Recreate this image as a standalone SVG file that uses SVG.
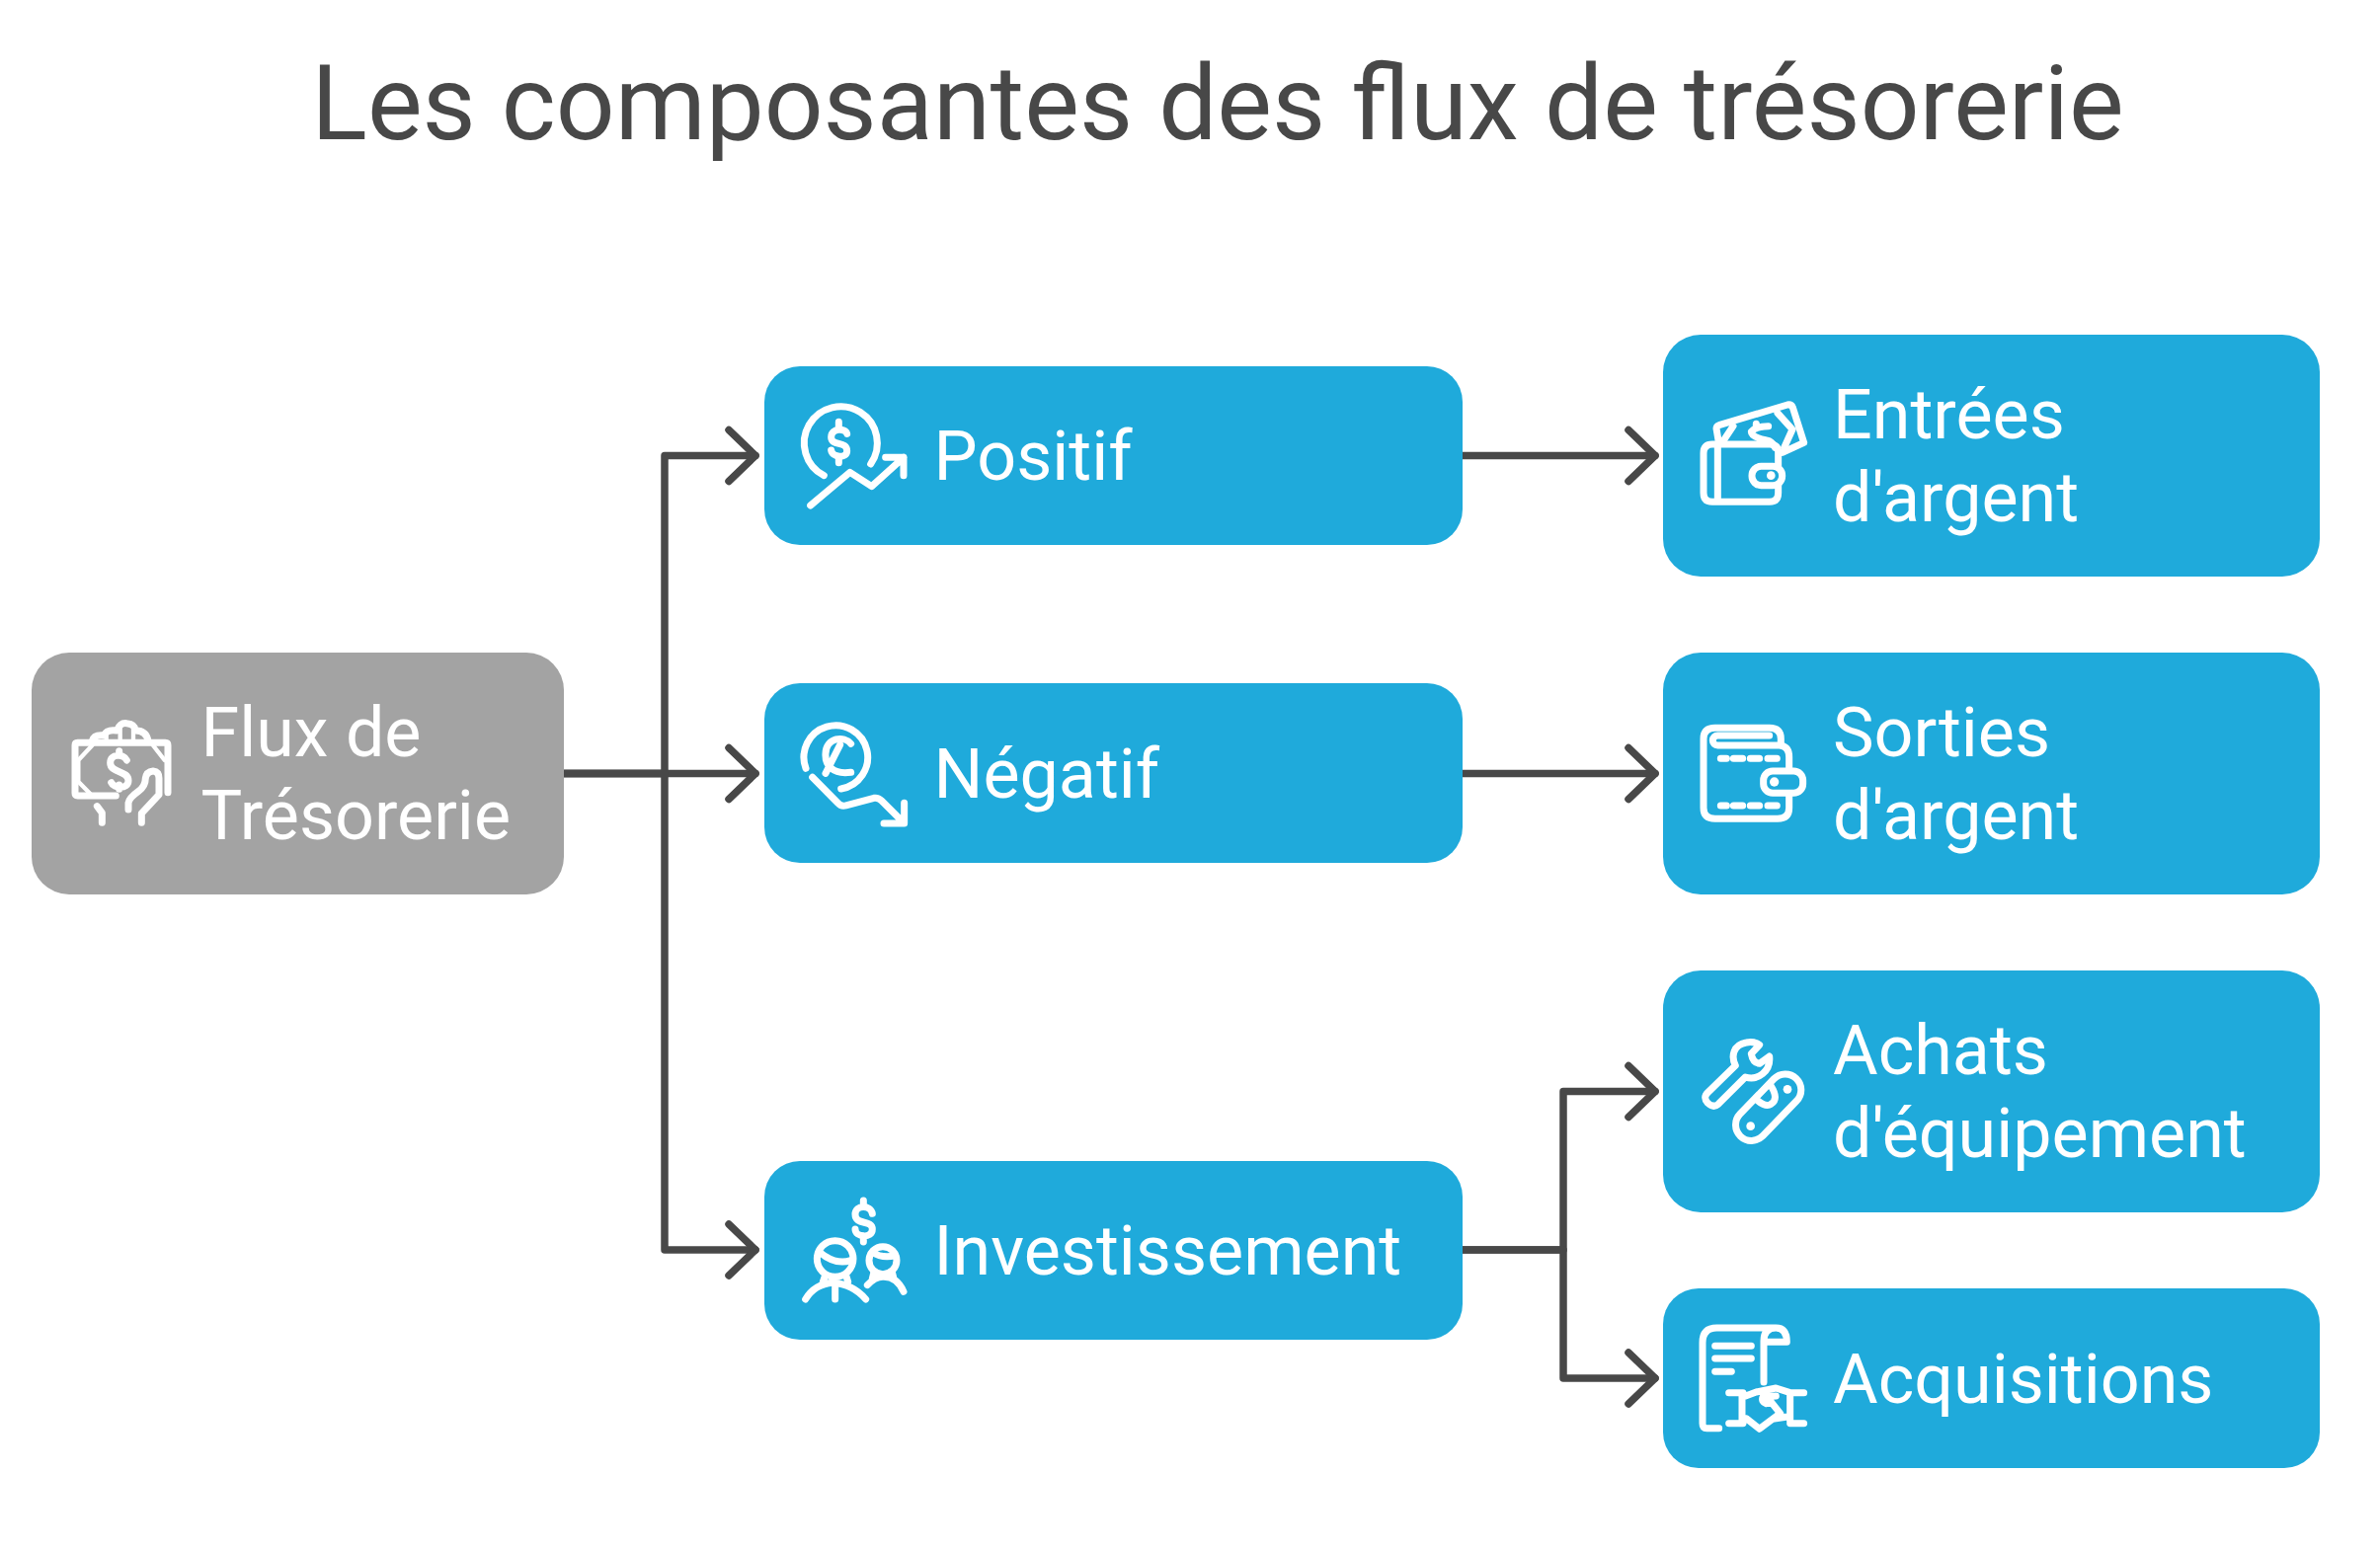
<svg xmlns="http://www.w3.org/2000/svg" width="2410" height="1570" viewBox="0 0 2410 1570">
<style>
text{font-family:Roboto,"Liberation Sans",sans-serif;}
.title{font-size:105px;fill:#484848;text-anchor:middle;}
.t{font-size:70px;fill:#fff;}
.b{fill:#1faadb;}
.g{fill:#a3a3a3;}
.i{fill:none;stroke:#fff;stroke-width:21;stroke-linecap:round;stroke-linejoin:round;}
.d{fill:#fff;stroke:none;}
.c{fill:none;stroke:#484848;stroke-width:7.5;stroke-linecap:round;stroke-linejoin:round;marker-end:url(#arrow);}
</style>
<defs>
<marker id="arrow" markerUnits="userSpaceOnUse" markerWidth="60" markerHeight="70" refX="30" refY="35" orient="auto" overflow="visible">
<path d="M3,9 L30,35 L3,61" fill="none" stroke="#484848" stroke-width="7.5" stroke-linecap="round" stroke-linejoin="round"/>
</marker>
</defs>
<rect width="2410" height="1570" fill="#fff"/>
<text class="title" x="1233" y="140.5" id="title">Les composantes des flux de trésorerie</text>
<g id="connectors">
<path class="c" d="M570,783.5 H765"/>
<path class="c" d="M570,783.5 H673 V461.5 H765"/>
<path class="c" d="M570,783.5 H673 V1266 H765"/>
<path class="c" d="M1481,461.5 H1676"/>
<path class="c" d="M1481,783.5 H1676"/>
<path class="c" d="M1481,1266 H1583 V1105.5 H1676"/>
<path class="c" d="M1481,1266 H1583 V1396 H1676"/>
</g>
<g id="node-flux">
<rect class="g" x="32" y="661" width="539" height="245" rx="38"/>
<text class="t" x="203.5" y="766">Flux de</text>
<text class="t" x="203.5" y="850">Trésorerie</text>
<g transform="translate(60,720) scale(.3333)">
<path class="i" d="M330,248 V105 Q330,97 322,97 H56 Q48,97 48,105 V250 Q48,258 56,258 H172"/>
<path class="i" style="stroke-width:13" d="M100,105 L58,150 V215 L100,258 M285,105 L320,150"/>
<path class="i" d="M100,92 Q105,72 135,75 Q145,55 175,60 Q185,35 205,38 Q230,40 232,60 Q265,60 270,92"/>
<path class="i" style="stroke-width:13" d="M143,72 V92 M185,52 V92 M225,55 V92"/>
<path class="i" d="M205,150 C195,130 155,130 155,158 C155,190 210,180 210,212 C210,240 165,235 158,218 M182,122 V135 M182,225 V238"/>
<path class="i" d="M210,300 V280 Q212,265 240,245 Q262,230 262,205 Q265,185 285,183 Q303,185 303,205 V255 L250,312 V340 M115,290 L130,310 V340"/>
</g>
</g>
<g id="node-positif">
<rect class="b" x="774" y="371" width="707" height="181" rx="36"/>
<text class="t" x="945.5" y="486">Positif</text>
<g transform="translate(780,370) scale(.3333)">
<path class="i" d="M163,335 A111 111 0 1 1 305,300"/>
<path class="i" d="M233,208 C228,190 185,190 185,218 C185,248 233,228 233,260 C233,285 188,280 185,258 M208,172 V188 M208,280 V296"/>
<path class="i" d="M122,426 L242,325 L308,368 L405,280 M350,280 H405 V335"/>
</g>
</g>
<g id="node-negatif">
<rect class="b" x="774" y="692" width="707" height="182" rx="36"/>
<text class="t" x="945.5" y="808">Négatif</text>
<g transform="translate(780,695) scale(.3333)">
<path class="i" d="M108,250 A97 97 0 1 1 215,312"/>
<path class="i" d="M245,175 C225,150 170,155 168,205 C166,240 190,270 245,262 M212,178 L168,265"/>
<path class="i" d="M128,277 L205,355 Q215,367 230,363 L315,340 Q328,338 338,348 L405,415 M345,417 H407 V355"/>
</g>
</g>
<g id="node-investissement">
<rect class="b" x="774" y="1176" width="707" height="181" rx="36"/>
<text class="t" x="945.5" y="1291">Investissement</text>
<g transform="translate(780,1180) scale(.3333)">
<path class="i" d="M310,148 C305,120 258,120 258,150 C258,185 310,165 310,195 C310,225 258,220 258,195 M283,108 V122 M283,220 V234"/>
<circle class="i" cx="197" cy="285" r="55"/>
<path class="i" d="M150,265 Q197,305 245,290 M107,408 Q135,362 190,358 Q250,362 290,408 M197,362 V408 M167,335 L160,355 M230,335 L236,355"/>
<circle class="i" cx="342" cy="290" r="42"/>
<path class="i" d="M310,265 Q340,285 380,275 M295,365 Q320,338 345,340 Q385,340 405,385 M315,325 L310,345 M370,325 L375,345"/>
</g>
</g>
<g id="node-entrees">
<rect class="b" x="1684" y="339" width="665" height="245" rx="38"/>
<text class="t" x="1856" y="444">Entrées</text>
<text class="t" x="1856" y="528">d'argent</text>
<g transform="translate(1710,390) scale(.3333)">
<path class="i" d="M272,245 V205 Q272,180 245,180 H72 Q45,180 45,207 V328 Q45,355 72,355 H245 Q272,355 272,328 V305 M88,180 V355"/>
<rect class="i" x="192" y="247" width="92" height="58" rx="28"/>
<circle class="d" cx="250" cy="275" r="13"/>
<path class="i" d="M90,168 L84,132 Q84,125 92,122 L300,60 Q312,58 316,68 L350,175 L285,205 M135,125 L105,170 M270,85 L315,135 L290,190"/>
<path class="i" d="M242,125 Q205,125 190,142 Q190,160 245,170 Q258,178 262,190 M205,118 V125"/>
</g>
</g>
<g id="node-sorties">
<rect class="b" x="1684" y="661" width="665" height="245" rx="38"/>
<text class="t" x="1856" y="766">Sorties</text>
<text class="t" x="1856" y="850">d'argent</text>
<g transform="translate(1680,665) scale(.3333)">
<path class="i" d="M370,270 V250 Q370,217 335,217 H170 Q135,217 135,250 V460 Q135,493 170,493 H360 Q395,493 395,460 V420 M395,345 V305 Q395,272 365,270 H178 A15 15 0 0 1 178,240 H335"/>
<path class="i" d="M187,310 H205 M226,310 H254 M277,310 H305 M330,310 H358 M187,453 H205 M226,453 H254 M277,453 H305 M330,453 H358"/>
<rect class="i" x="317" y="348" width="120" height="67" rx="28"/>
<circle class="d" cx="350" cy="381" r="14"/>
</g>
</g>
<g id="node-achats">
<rect class="b" x="1684" y="983" width="665" height="245" rx="38"/>
<text class="t" x="1856" y="1088">Achats</text>
<text class="t" x="1856" y="1172">d'équipement</text>
<g transform="translate(1680,990) scale(.3333)">
<path class="i" d="M232,268 C218,240 225,205 265,198 C280,195 295,198 305,205 L280,232 Q285,260 305,262 L335,240 C340,285 300,315 262,303 L180,385 Q165,398 148,382 Q132,365 148,350 Z"/>
<rect class="i" x="210" y="347" width="244" height="96" rx="48" transform="rotate(-46 332 395)"/>
<circle class="d" cx="278" cy="452" r="13"/>
<circle class="d" cx="390" cy="340" r="13"/>
<path class="i" d="M340,330 Q365,370 340,385 Q325,395 300,375"/>
</g>
</g>
<g id="node-acquisitions">
<rect class="b" x="1684" y="1305" width="665" height="182" rx="36"/>
<text class="t" x="1856" y="1421">Acquisitions</text>
<g transform="translate(1710,1340) scale(.3333)">
<path class="i" d="M92,320 H55 Q42,320 42,305 V60 Q42,15 85,15 H265 Q298,15 298,58 H232 M228,180 V55 Q228,15 265,15"/>
<path class="i" d="M80,70 H190 M80,108 H190 M80,148 H130"/>
<path class="i" d="M122,212 H165 M122,305 H165 M162,215 V300 M350,212 H308 M350,305 H308 M308,215 V300 M165,225 L205,210 L265,198 L308,212 M165,290 H175 L215,322 L255,292 L300,285 M265,222 L225,225 Q220,240 235,245 L250,240 L278,275 L255,292"/>
</g>
</g>
</svg>
